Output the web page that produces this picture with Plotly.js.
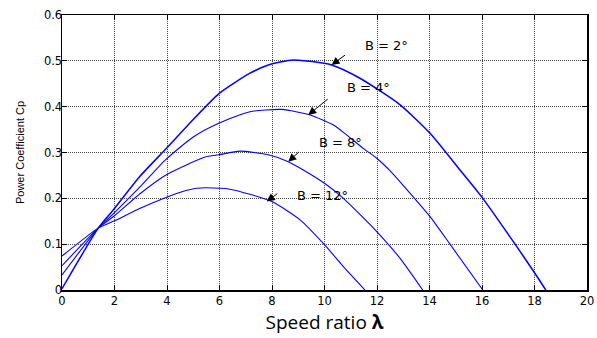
<!DOCTYPE html>
<html>
<head>
<meta charset="utf-8">
<script src="https://cdn.plot.ly/plotly-3.0.1.min.js"></script>
<style>html,body{margin:0;padding:0;background:#fff;}</style>
</head>
<body>
<div id="chart" style="width:597px;height:338px;"></div>
<script>
// Speed ratio (lambda) and power coefficient Cp for each pitch angle B
const xB2  = [0, 0.5, 1.38, 2, 2.97, 3.96, 5.0, 5.97, 7.16, 7.86, 8.81, 10.27, 11.35, 12.88, 14.02, 15.16, 16.03, 17.26, 18.02, 18.43];
const yB2  = [0.003, 0.052, 0.135, 0.178, 0.248, 0.308, 0.372, 0.428, 0.473, 0.491, 0.502, 0.491, 0.462, 0.404, 0.342, 0.262, 0.2, 0.1, 0.036, 0];

const xB4  = [0, 1.38, 2, 2.97, 3.96, 5.0, 5.97, 7.16, 8.37, 9.45, 10.34, 10.85, 11.5, 12.0, 12.5, 12.88, 13.38, 14.02, 14.78, 16.03];
const yB4  = [0.033, 0.135, 0.169, 0.225, 0.285, 0.334, 0.364, 0.389, 0.394, 0.382, 0.36, 0.338, 0.308, 0.287, 0.26, 0.236, 0.203, 0.16, 0.1, 0];

const xB8  = [0, 1.38, 2, 2.97, 3.96, 5.45, 5.97, 6.78, 7.86, 8.62, 9.19, 10, 10.72, 12, 12.88, 13.74];
const yB8  = [0.053, 0.135, 0.162, 0.21, 0.251, 0.29, 0.295, 0.303, 0.295, 0.28, 0.262, 0.233, 0.2, 0.127, 0.069, 0];

const xB12 = [0, 1.38, 2, 3, 3.96, 4.6, 5.13, 5.5, 6.4, 7.99, 9.07, 9.98, 10.72, 11.54];
const yB12 = [0.074, 0.135, 0.151, 0.179, 0.202, 0.215, 0.222, 0.223, 0.220, 0.193, 0.153, 0.1, 0.051, 0];

// Labels and the point each arrow points to
const labelTexts = ["B = 2°", "B = 4°", "B = 8°", "B = 12°"];
const labelX     = [11.47, 10.78, 9.70, 8.88];
const labelY     = [0.533, 0.442, 0.322, 0.207];
const arrowX     = [10.27, 9.38, 8.62, 7.80];
const arrowY     = [0.491, 0.382, 0.280, 0.193];

const xTicks = [0, 2, 4, 6, 8, 10, 12, 14, 16, 18, 20];
const yTicks = [0, 0.1, 0.2, 0.3, 0.4, 0.5, 0.6];

const blue = '#0000ff';
const lineStyle = (w) => ({color: blue, width: w, shape: 'spline', smoothing: 0.6});
const traces = [
  {x: xB2,  y: yB2,  mode: 'lines', line: lineStyle(1.5), name: 'B = 2°'},
  {x: xB4,  y: yB4,  mode: 'lines', line: lineStyle(1.1), name: 'B = 4°'},
  {x: xB8,  y: yB8,  mode: 'lines', line: lineStyle(1.1), name: 'B = 8°'},
  {x: xB12, y: yB12, mode: 'lines', line: lineStyle(1.1), name: 'B = 12°'}
];

const offsets = [[15, -11], [21, -17], [12, -11], [12, -9]];
const annotations = [];
for (let i = 0; i < labelTexts.length; i++) {
  annotations.push({
    x: labelX[i], y: labelY[i], xref: 'x', yref: 'y',
    text: labelTexts[i], showarrow: false, xanchor: 'left', yanchor: 'middle',
    font: {family: 'DejaVu Sans', size: 13, color: '#000'}
  });
  annotations.push({
    x: arrowX[i], y: arrowY[i], xref: 'x', yref: 'y', text: '',
    showarrow: true, arrowhead: 2, arrowsize: 1.6, arrowwidth: 1, arrowcolor: '#000',
    ax: offsets[i][0], ay: offsets[i][1], standoff: 0
  });
}

const axisCommon = {
  showline: true, linecolor: '#000', linewidth: 1.5, mirror: 'ticks',
  ticks: 'inside', ticklen: 5, tickcolor: '#000', tickwidth: 1,
  showgrid: true, gridcolor: '#444', gridwidth: 1, griddash: '1px,1px',
  zeroline: false, fixedrange: true
};

const layout = {
  width: 597, height: 338,
  margin: {l: 62, r: 9.5, t: 15, b: 48},
  paper_bgcolor: '#fff', plot_bgcolor: '#fff',
  showlegend: false,
  xaxis: Object.assign({}, axisCommon, {
    range: [0, 20], tickvals: xTicks, ticktext: xTicks.map(String),
    tickfont: {family: 'DejaVu Sans', size: 11.5, color: '#000'},
    title: {text: 'Speed ratio <b>λ</b>', font: {family: 'Open Sans', size: 19, color: '#000'}, standoff: 8}
  }),
  yaxis: Object.assign({}, axisCommon, {
    range: [0, 0.6], tickvals: yTicks, ticktext: yTicks.map(String),
    tickfont: {family: 'DejaVu Sans', size: 11.5, color: '#000'},
    ticklabelstandoff: -4,
    title: {text: 'Power Coefficient Cp', font: {family: 'Liberation Sans', size: 11, color: '#000'}, standoff: 17}
  }),
  annotations: annotations
};

Plotly.newPlot('chart', traces, layout, {displayModeBar: false, staticPlot: true});
</script>
</body>
</html>
